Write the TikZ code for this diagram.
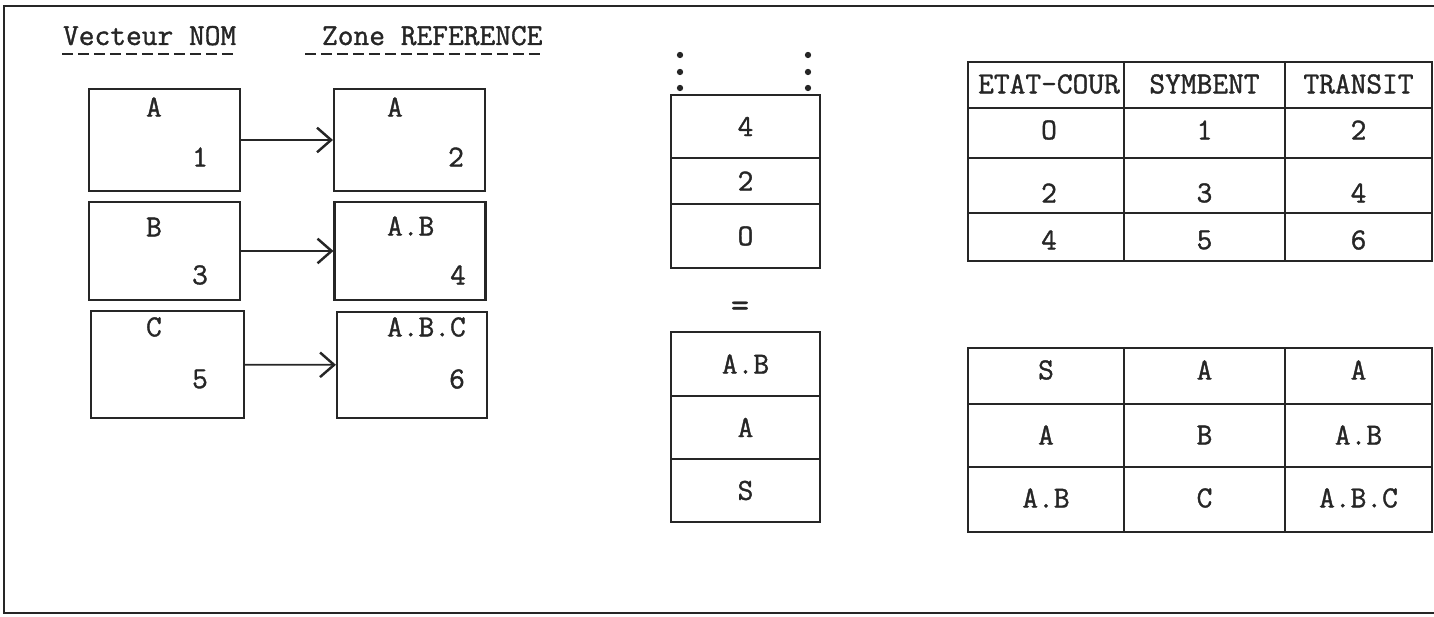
\documentclass[tikz,border=0pt]{standalone}
\usepackage{fontspec}
\newfontfamily\machine[FakeBold=1.2]{Latin Modern Mono}
\usetikzlibrary{arrows.meta}

\begin{document}
\begin{tikzpicture}[x=0.02cm,y=-0.02cm,line width=1.2pt,black!85,
  txt/.style={font=\machine\fontsize{17.4}{20}\selectfont,inner sep=0pt,text=black!85},
  souligne/.style={line width=1pt,dash pattern=on 6.5pt off 2.6pt},
  case/.style={draw,inner sep=0pt,minimum width=3.02cm},
  pile/.style={draw,txt,minimum width=2.98cm},
  lien/.style={line width=1pt,-{Straight Barb[length=8pt,width=14pt,line width=1.4pt]}}]
\useasboundingbox (0,0) rectangle (1434,617);
\draw[line width=1.4pt] (1434,6) -- (4,6) -- (4,613) -- (1434,613);
% titres
\node[txt,anchor=base west] (vnom) at (62,45) {Vecteur NOM};
\node[txt,anchor=base west] (zref) at (321,45) {Zone REFERENCE};
\draw[souligne] ([yshift=-5pt]vnom.base west) -- ([yshift=-5pt]vnom.base east);
\draw[souligne] ([xshift=-0.32cm,yshift=-5pt]zref.base west) -- ([yshift=-5pt]zref.base east);
% vecteur NOM
\node[case,minimum height=2.04cm] (nA) at (164.5,140) {};
\node[case,minimum height=1.96cm] (nB) at (164.5,251) {};
\node[case,minimum height=2.14cm,minimum width=3.06cm] (nC) at (167.5,364.5) {};
\node[txt,anchor=west] (nA-s) at (145,107) {A};
\node[txt] (nA-v) at (200,157) {1};
\node[txt,anchor=west] (nB-s) at (145,227) {B};
\node[txt] (nB-v) at (200,275) {3};
\node[txt,anchor=west] (nC-s) at (145,327) {C};
\node[txt] (nC-v) at (200,379) {5};
% zone REFERENCE
\node[case,minimum height=2.04cm] (rA) at (409.5,140) {};
\node[case,minimum height=1.96cm] (rB) at (410,251) {};
\node[case,minimum height=2.12cm,minimum width=3.0cm] (rC) at (412,365) {};
\node[txt,anchor=west] (rA-s) at (386,107) {A};
\node[txt] (rA-v) at (456,157) {2};
\node[txt,anchor=west] (rB-s) at (386,226) {A.B};
\node[txt] (rB-v) at (458,275) {4};
\node[txt,anchor=west] (rC-s) at (386,327) {A.B.C};
\node[txt] (rC-v) at (457,379) {6};
\draw[lien] (nA) -- (rA);
\draw[lien] (nB) -- (rB);
\draw[lien] (nC) -- (rC);
% piles
\foreach \y in {55,72,88} {
  \fill (680,\y) circle (1.8pt);
  \fill (808,\y) circle (1.8pt);
}
\node[pile,minimum height=1.26cm] (p1) at (745.5,126.5) {4};
\node[pile,minimum height=0.92cm] (p2) at (745.5,181) {2};
\node[pile,minimum height=1.28cm] (p3) at (745.5,236) {O};
\node[txt,font=\machine\fontsize{20}{20}\selectfont] (egal) at (740,309) {=};
\node[pile,minimum height=1.28cm] (q1) at (745.5,364) {A.B};
\node[pile,minimum height=1.26cm] (q2) at (745.5,427.5) {A};
\node[pile,minimum height=1.26cm] (q3) at (745.5,490.5) {S};
% tables
\draw (968,62) rectangle (1432,261);
\draw (1124,62) -- (1124,261) (1285,62) -- (1285,261);
\draw (968,108) -- (1432,108) (968,158) -- (1432,158) (968,213) -- (1432,213);
\foreach \a/\b/\c/\y [count=\n] in {ETAT-COUR/SYMBENT/TRANSIT/84, O/1/2/130, 2/3/4/193, 4/5/6/240} {
  \node[txt] (t-\n-1) at (1049,\y) {\a};
  \node[txt] (t-\n-2) at (1204.5,\y) {\b};
  \node[txt] (t-\n-3) at (1358.5,\y) {\c};
}
\draw (968,348) rectangle (1432,532);
\draw (1124,348) -- (1124,532) (1285,348) -- (1285,532);
\draw (968,404) -- (1432,404) (968,467) -- (1432,467);
\foreach \a/\b/\c/\y [count=\n] in {S/A/A/370, A/B/A.B/435, A.B/C/A.B.C/498} {
  \node[txt] (s-\n-1) at (1046,\y) {\a};
  \node[txt] (s-\n-2) at (1204.5,\y) {\b};
  \node[txt] (s-\n-3) at (1358.5,\y) {\c};
}
\end{tikzpicture}
\end{document}
